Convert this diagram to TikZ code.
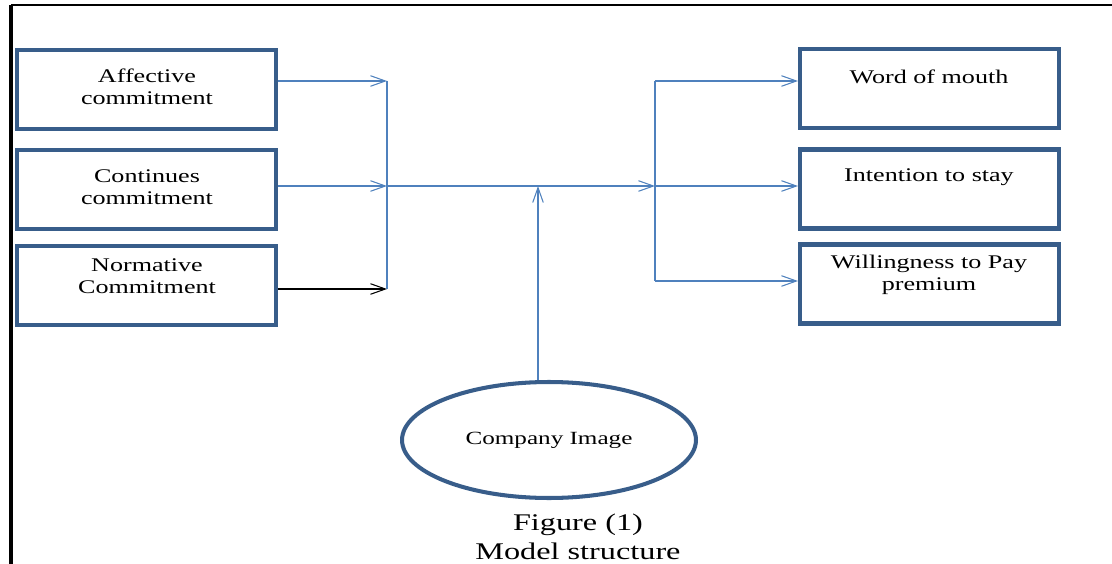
\documentclass[tikz,border=0pt]{standalone}
\usepackage{fontspec}
\setmainfont[FakeStretch=1.35]{Liberation Serif}
\usetikzlibrary{arrows.meta, shapes.geometric}
\definecolor{boxblue}{RGB}{56, 93, 138}
\definecolor{linkblue}{RGB}{79, 129, 189}

\tikzset{
  box/.style={draw=boxblue, line width=2.3pt, minimum width=5.18cm, minimum height=1.58cm},
  txt/.style={align=center, font=\fontsize{11}{12.5}\selectfont},
  link/.style={draw=linkblue, line width=0.6pt},
  arr/.style={-{Straight Barb[length=8.5pt, width=6pt]}}
}

\begin{document}
\begin{tikzpicture}[x=0.02cm, y=-0.02cm]
  \useasboundingbox (0, 0) rectangle (1112, 564);
  \draw[line width=1.3pt] (1112, 5) -- (11, 5);
  \draw[line width=2pt] (11, 5) -- (11, 564);

  % commitment boxes
  \node[box] (af) at (146.5, 89.5) {};
  \node[box] (co) at (146.5, 189.5) {};
  \node[box] (no) at (146.5, 285.5) {};
  \node[txt] (afT) at (147, 87) {Affective\\commitment};
  \node[txt] (coT) at (147, 187) {Continues\\commitment};
  \node[txt] (noT) at (147, 276.5) {Normative\\Commitment};

  % outcome boxes
  \node[box] (wm) at (929.5, 88.5) {};
  \node[box] (is) at (929.5, 189) {};
  \node[box] (wp) at (929.5, 284) {};
  \node[txt] (wmT) at (929, 77) {Word of mouth};
  \node[txt] (isT) at (929, 177) {Intention to stay};
  \node[txt] (wpT) at (929, 274.5) {Willingness to Pay\\premium};

  % moderator
  \node[ellipse, draw=boxblue, line width=2.3pt, minimum width=5.88cm, minimum height=2.32cm,
    font=\fontsize{10.6}{12}\selectfont] (ci) at (549, 440) {Company Image};

  \node[align=center, font=\fontsize{13.6}{16.4}\selectfont] (fig) at (578, 537)
    {Figure (1)\\Model structure};

  % junctions
  \coordinate (inA) at (387, 81);
  \coordinate (inB) at (387, 186);
  \coordinate (inC) at (387, 289);
  \coordinate (outA) at (655, 81);
  \coordinate (outB) at (655, 186);
  \coordinate (outC) at (655, 281);
  \coordinate (up) at (538, 186);

  \draw[link, arr] (af.east |- inA) -- (inA);
  \draw[link, arr] (co.east |- inB) -- (inB);
  \draw[arr, line width=0.6pt] (no.east |- inC) -- (inC);
  \draw[link] (inA) -- (inC);
  \draw[link, arr] (inB) -- (outB);
  \draw[link] (outA) -- (outC);
  \draw[link, arr] (outA) -- (wm.west |- outA);
  \draw[link, arr] (outB) -- (is.west |- outB);
  \draw[link, arr] (outC) -- (wp.west |- outC);
  \draw[link, arr] (ci.north -| up) -- (up);

\end{tikzpicture}
\end{document}
